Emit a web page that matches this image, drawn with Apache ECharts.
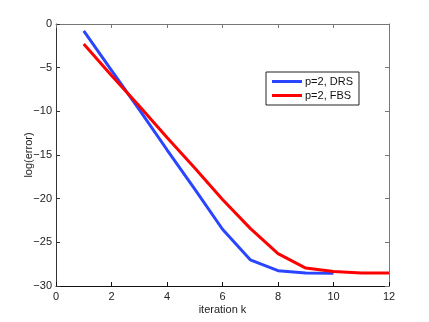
<!DOCTYPE html>
<html>
<head>
<meta charset="utf-8">
<script src="https://cdn.jsdelivr.net/npm/echarts@6/dist/echarts.min.js"></script>
<style>
  html, body { margin: 0; padding: 0; background: #fff; }
  #chart { width: 429px; height: 322px; }
</style>
</head>
<body>
<div id="chart"></div>
<script>
// iterations and log(error) values
const iterDRS = [1, 2, 3, 4, 5, 6, 7, 8, 9, 10]
const errDRS = [-0.8, -5.3, -9.8, -14.4, -18.9, -23.5, -27.0, -28.25, -28.5, -28.55]
const iterFBS = [1, 2, 3, 4, 5, 6, 7, 8, 9, 10, 11, 12]
const errFBS = [-2.3, -5.9, -9.4, -13.0, -16.5, -20.1, -23.4, -26.3, -27.95, -28.35, -28.5, -28.5]

const font = 'Liberation Sans, Arial, sans-serif'
const minus = v => String(v).replace('-', '\u2212')

const chart = echarts.init(document.getElementById('chart'))

const pairs = (xs, ys) => xs.map((x, i) => [x, ys[i]])

chart.setOption({
  animation: false,
  grid: { left: 56, right: 40, top: 24, bottom: 36 },
  legend: {
    orient: 'vertical',
    left: 266,
    top: 72,
    padding: [4, 6, 4, 6],
    itemGap: 3,
    itemWidth: 30,
    itemHeight: 3,
    icon: 'rect',
    borderColor: '#222',
    borderWidth: 1,
    backgroundColor: '#fff',
    textStyle: { fontFamily: font, fontSize: 11, color: '#111', padding: [0, 0, 0, -2] },
    data: ['p=2, DRS', 'p=2, FBS']
  },
  xAxis: [
    {
      type: 'value', min: 0, max: 12, interval: 2, position: 'bottom',
      name: 'iteration k', nameLocation: 'middle', nameGap: 18, nameMoveOverlap: false,
      nameTextStyle: { fontFamily: font, fontSize: 11, color: '#222' },
      axisLine: { onZero: false, lineStyle: { color: '#111', width: 1 } },
      axisTick: { inside: true, length: 4, lineStyle: { color: '#111' } },
      axisLabel: { fontFamily: font, fontSize: 11, color: '#222', margin: 5 },
      splitLine: { show: false }
    },
    {
      type: 'value', min: 0, max: 12, interval: 2, position: 'top',
      axisLine: { onZero: false, lineStyle: { color: '#777', width: 1 } },
      axisTick: { inside: true, length: 4, lineStyle: { color: '#777' } },
      axisLabel: { show: false },
      splitLine: { show: false }
    }
  ],
  yAxis: [
    {
      type: 'value', min: -30, max: 0, interval: 5, position: 'left',
      name: 'log(error)', nameLocation: 'middle', nameGap: 22, nameMoveOverlap: false,
      nameTextStyle: { fontFamily: font, fontSize: 11, color: '#222' },
      axisLine: { show: true, onZero: false, lineStyle: { color: '#333', width: 1 } },
      axisTick: { show: true, inside: true, length: 4, lineStyle: { color: '#333' } },
      axisLabel: { fontFamily: font, fontSize: 11, color: '#222', margin: 4, formatter: minus },
      splitLine: { show: false }
    },
    {
      type: 'value', min: -30, max: 0, interval: 5, position: 'right',
      axisLine: { show: true, onZero: false, lineStyle: { color: '#777', width: 1 } },
      axisTick: { show: true, inside: true, length: 4, lineStyle: { color: '#777' } },
      axisLabel: { show: false },
      splitLine: { show: false }
    }
  ],
  series: [
    {
      name: 'p=2, DRS',
      type: 'line',
      data: pairs(iterDRS, errDRS),
      showSymbol: false,
      lineStyle: { color: '#2a45ff', width: 3 },
      itemStyle: { color: '#2a45ff' }
    },
    {
      name: 'p=2, FBS',
      type: 'line',
      data: pairs(iterFBS, errFBS),
      showSymbol: false,
      lineStyle: { color: '#ff0000', width: 3 },
      itemStyle: { color: '#ff0000' }
    }
  ]
})
</script>
</body>
</html>
